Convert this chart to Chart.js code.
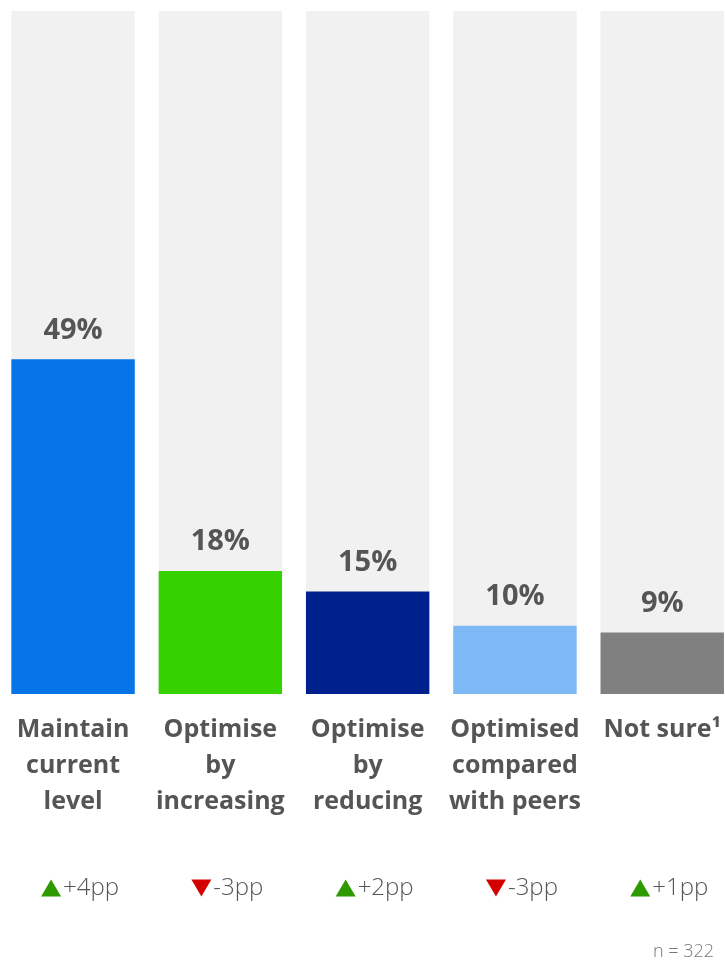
<!DOCTYPE html>
<html>
<head>
<meta charset="utf-8">
<script src="https://cdn.jsdelivr.net/npm/chart.js@4.4.1/dist/chart.umd.min.js"></script>
<style>
  html, body { margin: 0; padding: 0; background: #ffffff; overflow: hidden; width: 725px; height: 962px; }
  #wrap { position: absolute; left: -1px; top: 0; width: 740px; height: 962px; }
</style>
</head>
<body>
<div id="wrap"><canvas id="c" width="740" height="962"></canvas></div>
<script>
const categories = [
  ["Maintain", "current", "level"],
  ["Optimise", "by", "increasing"],
  ["Optimise", "by", "reducing"],
  ["Optimised", "compared", "with peers"],
  ["Not sure\u00B9"]
];
const values = [49, 18, 15, 10, 9];
const totals = [100, 100, 100, 100, 100];
const barColors = ["#0673e8", "#36d100", "#00208d", "#7db9f5", "#808080"];
const deltas = ["+4pp", "-3pp", "+2pp", "-3pp", "+1pp"];
const deltaUp = [true, false, true, false, true];
const sampleNote = "n = 322";

const TEXT = "#555555";
const FONT = "'Open Sans', 'DejaVu Sans', sans-serif";

const overlayPlugin = {
  id: "overlay",
  afterDatasetsDraw(chart) {
    const ctx = chart.ctx;
    const meta = chart.getDatasetMeta(0);
    ctx.save();
    ctx.fillStyle = TEXT;
    ctx.font = "bold 29px " + FONT;
    ctx.textAlign = "center";
    ctx.textBaseline = "middle";
    meta.data.forEach((bar, i) => {
      ctx.fillText(values[i] + "%", bar.x, bar.y - 29);
    });
    ctx.restore();
  },
  afterDraw(chart) {
    const ctx = chart.ctx;
    const xs = chart.scales.x;
    ctx.save();
    ctx.font = "300 24px " + FONT;
    ctx.textBaseline = "middle";
    ctx.textAlign = "left";
    const y = 888;
    deltas.forEach((d, i) => {
      const cx = xs.getPixelForValue(i) + 7;
      const tw = ctx.measureText(d).width;
      const triW = 20, triH = 17, gap = 2;
      const total = triW + gap + tw;
      const x0 = cx - total / 2;
      ctx.beginPath();
      if (deltaUp[i]) {
        ctx.fillStyle = "#2e9a00";
        ctx.moveTo(x0, y + triH / 2);
        ctx.lineTo(x0 + triW, y + triH / 2);
        ctx.lineTo(x0 + triW / 2, y - triH / 2);
      } else {
        ctx.fillStyle = "#d40000";
        ctx.moveTo(x0, y - triH / 2);
        ctx.lineTo(x0 + triW, y - triH / 2);
        ctx.lineTo(x0 + triW / 2, y + triH / 2);
      }
      ctx.closePath();
      ctx.fill();
      ctx.fillStyle = TEXT;
      ctx.fillText(d, x0 + triW + gap, y);
    });
    ctx.font = "300 18px " + FONT;
    ctx.fillStyle = "#777777";
    ctx.textAlign = "right";
    ctx.fillText(sampleNote, 715, 952);
    ctx.restore();
  }
};

new Chart(document.getElementById("c"), {
  type: "bar",
  data: {
    labels: categories,
    datasets: [
      {
        data: values,
        backgroundColor: barColors,
        borderWidth: 0,
        order: 0,
        barPercentage: 124 / 148,
        categoryPercentage: 1
      },
      {
        data: totals,
        backgroundColor: "#f1f1f1",
        borderWidth: 0,
        order: 1,
        barPercentage: 124 / 148,
        categoryPercentage: 1
      }
    ]
  },
  options: {
    responsive: false,
    devicePixelRatio: 1,
    animation: false,
    layout: { padding: { top: 11, left: 0, right: 0, bottom: 0 } },
    plugins: { legend: { display: false }, tooltip: { enabled: false } },
    scales: {
      x: {
        stacked: true,
        grid: { display: false, drawTicks: false },
        border: { display: false },
        ticks: {
          color: TEXT,
          font: { family: FONT, weight: "bold", size: 25, lineHeight: 1.44 },
          padding: 18,
          maxRotation: 0,
          autoSkip: false
        },
        afterFit(scale) { scale.height = 268; }
      },
      y: {
        display: false,
        stacked: false,
        min: 0,
        max: 100
      }
    }
  },
  plugins: [overlayPlugin]
});
</script>
</body>
</html>
